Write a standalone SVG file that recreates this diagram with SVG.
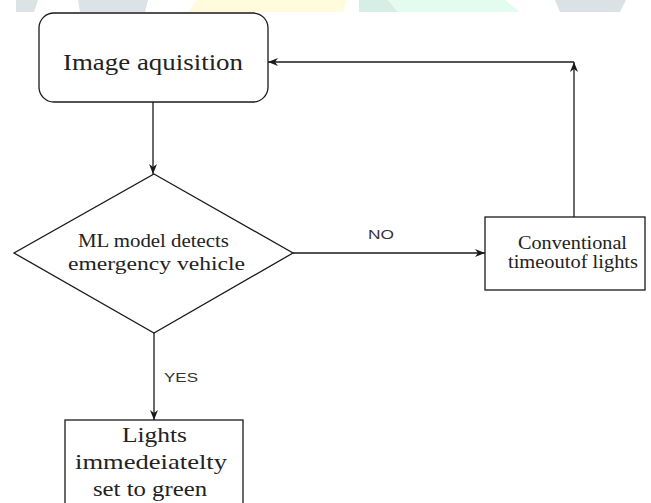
<svg xmlns="http://www.w3.org/2000/svg" width="651" height="503" viewBox="0 0 651 503">
<defs>
<style>
.node{fill:#fff;stroke:#1a1a1a;stroke-width:1.3}
.edge{fill:none;stroke:#1a1a1a;stroke-width:1.3}
.t{font-family:"Liberation Serif","Times New Roman",serif;fill:#222;text-anchor:middle}
.lbl{font-family:"Liberation Sans",Arial,sans-serif;fill:#333;font-size:13px;text-anchor:middle}
</style>
<marker id="ah" viewBox="0 0 10 8" refX="10" refY="4" markerWidth="10" markerHeight="8" markerUnits="userSpaceOnUse" orient="auto">
<path d="M0,0 L10,4 L0,8 L3,4 z" fill="#1a1a1a"/>
</marker>
</defs>
<rect width="651" height="503" fill="#fff"/>
<g id="watermark">
<polygon points="16,0 38,0 34,12 16,12" fill="#dce3e6"/>
<polygon points="78,0 148,0 145,12 80,12" fill="#dce3e6"/>
<polygon points="197,0 347,0 343,12 188,12" fill="#fffbdc"/>
<polygon points="359,0 388,0 398,12 359,12" fill="#d6eee6"/>
<polygon points="388,0 505,0 520,12 398,12" fill="#e3fcef"/>
<polygon points="555,0 626,0 620,12 560,12" fill="#dae2e6"/>
</g>
<g id="connectors">
<line class="edge" x1="153" y1="102" x2="153" y2="174" marker-end="url(#ah)"/>
<line class="edge" x1="293" y1="253" x2="485" y2="253" marker-end="url(#ah)"/>
<line class="edge" x1="154" y1="333" x2="154" y2="420" marker-end="url(#ah)"/>
<line class="edge" x1="574" y1="217" x2="574" y2="62" marker-end="url(#ah)"/>
<line class="edge" x1="574" y1="62" x2="268" y2="62" marker-end="url(#ah)"/>
<text class="lbl" x="381" y="239" textLength="26" lengthAdjust="spacingAndGlyphs">NO</text>
<text class="lbl" x="181" y="382" textLength="34" lengthAdjust="spacingAndGlyphs">YES</text>
</g>
<g id="image-acquisition">
<rect class="node" x="39" y="13" width="229" height="89" rx="15" ry="15"/>
<text class="t" x="153" y="70" font-size="23" textLength="180" lengthAdjust="spacingAndGlyphs">Image aquisition</text>
</g>
<g id="decision">
<polygon class="node" points="154,174 293,253 154,333 14,253"/>
<text class="t" x="153.5" y="247" font-size="18" textLength="151" lengthAdjust="spacingAndGlyphs">ML model detects</text>
<text class="t" x="156.5" y="270" font-size="18" textLength="177" lengthAdjust="spacingAndGlyphs">emergency vehicle</text>
</g>
<g id="conventional">
<rect class="node" x="485" y="217" width="160" height="73"/>
<text class="t" x="572.5" y="249" font-size="18" textLength="109" lengthAdjust="spacingAndGlyphs">Conventional</text>
<text class="t" x="573" y="268" font-size="18" textLength="130" lengthAdjust="spacingAndGlyphs">timeoutof lights</text>
</g>
<g id="green">
<rect class="node" x="65" y="420" width="178" height="100"/>
<text class="t" x="154.5" y="442" font-size="21" textLength="65" lengthAdjust="spacingAndGlyphs">Lights</text>
<text class="t" x="151" y="469" font-size="21" textLength="152" lengthAdjust="spacingAndGlyphs">immedeiatelty</text>
<text class="t" x="150" y="496" font-size="21" textLength="114" lengthAdjust="spacingAndGlyphs">set to green</text>
</g>
</svg>
